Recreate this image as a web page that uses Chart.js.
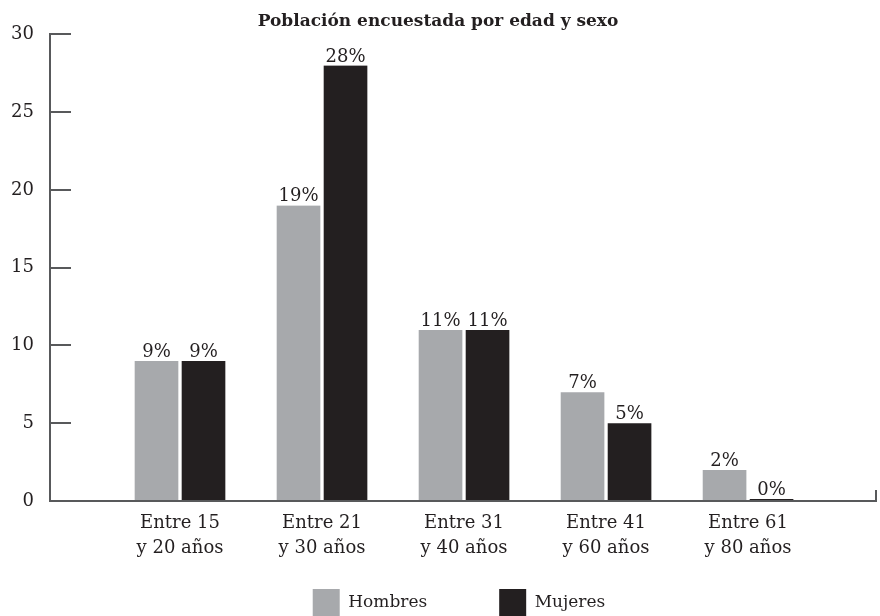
<!DOCTYPE html>
<html>
<head>
<meta charset="utf-8">
<script src="https://cdn.jsdelivr.net/npm/chart.js@4/dist/chart.umd.min.js"></script>
<style>
  html, body { margin: 0; padding: 0; background: #fff; }
  #wrap { width: 880px; height: 616px; }
</style>
</head>
<body>
<div id="wrap"><canvas id="barChart"></canvas></div>
<script>
const categories = [
    ['Entre 15', 'y 20 años'],
    ['Entre 21', 'y 30 años'],
    ['Entre 31', 'y 40 años'],
    ['Entre 41', 'y 60 años'],
    ['Entre 61', 'y 80 años']
];
const hombres = [9, 19, 11, 7, 2];
const mujeres = [9, 28, 11, 5, 0];
const yTicks = [0, 5, 10, 15, 20, 25, 30];

const FONT = "'DejaVu Serif', 'Liberation Serif', serif";
const textColor = '#231f20';
const axisColor = '#58595b';
const legendGap = 72;
const legendRowY = 589;

// percentage labels above every bar
const barLabels = {
    id: 'barLabels',
    afterDatasetsDraw(chart) {
        const ctx = chart.ctx;
        ctx.save();
        ctx.font = '18px ' + FONT;
        ctx.fillStyle = textColor;
        ctx.textAlign = 'center';
        ctx.textBaseline = 'alphabetic';
        chart.data.datasets.forEach((ds, i) => {
            chart.getDatasetMeta(i).data.forEach((bar, j) => {
                ctx.fillText(ds.data[j].y + '%', bar.x, bar.y - 4);
            });
        });
        ctx.restore();
    }
};

// legend uses the same padding for the gap between items and above the row,
// so pull the row up to sit at the bottom edge
const legendRow = {
    id: 'legendRow',
    afterLayout(chart) {
        const lg = chart.legend;
        if (!lg) return;
        lg.top = legendRowY - lg.options.labels.padding;
        lg.bottom = chart.height;
        lg.height = lg.bottom - lg.top;
        lg.left -= 4;
        lg.right -= 4;
    }
};

const toPoints = arr => arr.map((v, i) => ({ x: i, y: v }));

const ctx = document.getElementById('barChart').getContext('2d');
const barChart = new Chart(ctx, {
    type: 'bar',
    data: {
        datasets: [
            {
                label: 'Hombres',
                data: toPoints(hombres),
                backgroundColor: '#a7a9ac',
                borderColor: '#ffffff',
                borderWidth: { left: 2, right: 2, top: 0, bottom: 0 },
                borderSkipped: 'start'
            },
            {
                label: 'Mujeres',
                data: toPoints(mujeres),
                backgroundColor: '#231f20',
                borderColor: '#ffffff',
                borderWidth: { left: 2, right: 2, top: 0, bottom: 0 },
                borderSkipped: 'start'
            }
        ]
    },
    options: {
        responsive: true,
        maintainAspectRatio: false,
        animation: false,
        barThickness: 47,
        minBarLength: 2,
        layout: {
            padding: { left: 0, right: 4, top: 0, bottom: 0 }
        },
        scales: {
            x: {
                type: 'linear',
                offset: false,
                min: -0.9155,
                max: 4.901,
                afterBuildTicks: scale => {
                    scale.ticks = [0, 1, 2, 3, 4, scale.max].map(v => ({ value: v }));
                },
                afterFit: scale => {
                    scale.height = 60;
                    scale.paddingLeft = 0;
                    scale.paddingRight = 0;
                },
                border: { display: true, color: axisColor, width: 2 },
                grid: {
                    offset: false,
                    drawOnChartArea: false,
                    drawTicks: true,
                    tickLength: -11,
                    lineWidth: 2,
                    color: c => (c.index === 5 ? axisColor : 'rgba(0,0,0,0)')
                },
                ticks: {
                    autoSkip: false,
                    maxRotation: 0,
                    padding: 21,
                    color: textColor,
                    font: { family: FONT, size: 18, lineHeight: 1.39 },
                    callback: value => (Number.isInteger(value) && categories[value]) ? categories[value] : ''
                }
            },
            y: {
                min: 0,
                max: 30,
                afterBuildTicks: scale => {
                    scale.ticks = yTicks.map(v => ({ value: v }));
                },
                afterFit: scale => {
                    scale.width = 50;
                    scale.paddingTop = 0;
                    scale.paddingBottom = 0;
                },
                border: { display: true, color: axisColor, width: 2 },
                grid: {
                    drawOnChartArea: false,
                    drawTicks: true,
                    tickLength: -21,
                    lineWidth: 2,
                    color: axisColor
                },
                ticks: {
                    padding: 37,
                    color: textColor,
                    font: { family: FONT, size: 18 }
                }
            }
        },
        plugins: {
            title: {
                display: true,
                text: 'Población encuestada por edad y sexo',
                color: textColor,
                font: { family: FONT, size: 17, weight: 'bold', lineHeight: 1.2 },
                padding: { top: 11, bottom: 3 }
            },
            legend: {
                display: true,
                position: 'bottom',
                fullSize: false,
                maxHeight: 55,
                labels: {
                    boxWidth: 27,
                    boxHeight: 27,
                    padding: legendGap,
                    color: textColor,
                    font: { family: FONT, size: 17 },
                    generateLabels: chart => Chart.defaults.plugins.legend.labels.generateLabels(chart)
                        .map(item => Object.assign(item, { lineWidth: 0, strokeStyle: 'rgba(0,0,0,0)' }))
                }
            },
            tooltip: { enabled: false }
        }
    },
    plugins: [barLabels, legendRow]
});
</script>
</body>
</html>
